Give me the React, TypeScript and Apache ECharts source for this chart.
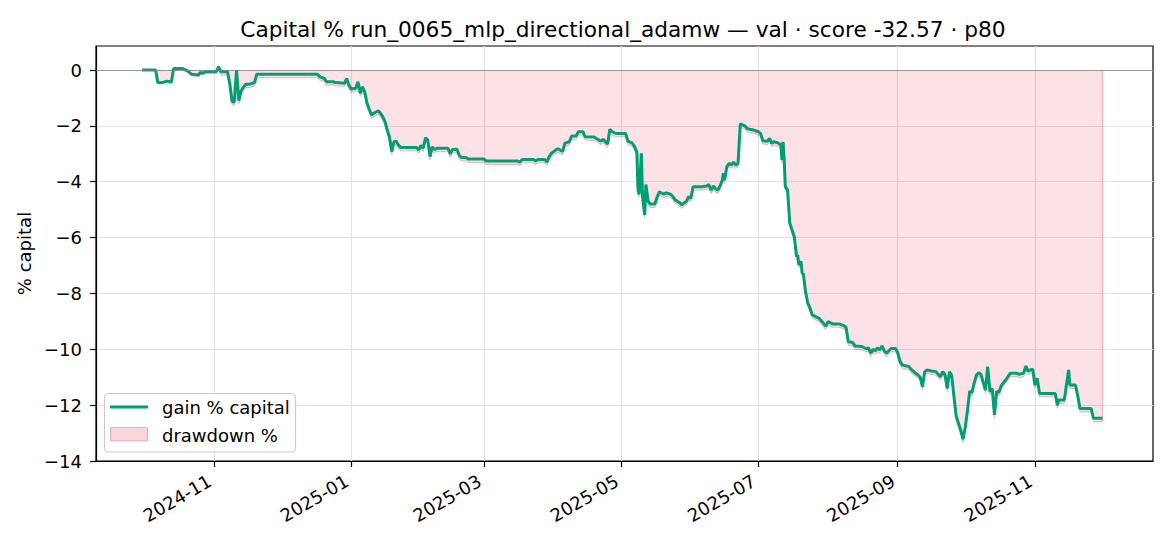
import React, { useEffect, useRef } from 'react';
import * as echarts from 'echarts';

const TITLE = 'Capital % run_0065_mlp_directional_adamw — val · score -32.57 · p80';
const Y_NAME = '% capital';
const LEGEND_LABELS = ['gain % capital', 'drawdown %'];
const X_TICKS = ['2024-11', '2025-01', '2025-03', '2025-05', '2025-07', '2025-09', '2025-11'];
const Y_TICKS = [-14, -12, -10, -8, -6, -4, -2, 0];
const X_MIN = '2024-09-09 12:00';
const X_MAX = '2025-12-23 12:00';
const Y_MIN = -14;
const Y_MAX = 0.86;

const dates = [
  '2024-09-30', '2024-10-06', '2024-10-07', '2024-10-09', '2024-10-11', '2024-10-12', '2024-10-13', '2024-10-14',
  '2024-10-18', '2024-10-20', '2024-10-22', '2024-10-25', '2024-10-26', '2024-10-27', '2024-10-28', '2024-11-02',
  '2024-11-03', '2024-11-04', '2024-11-07', '2024-11-08', '2024-11-09', '2024-11-10', '2024-11-11', '2024-11-12',
  '2024-11-13', '2024-11-14', '2024-11-15', '2024-11-17', '2024-11-19', '2024-11-20', '2024-12-17', '2024-12-18',
  '2024-12-20', '2024-12-21', '2024-12-24', '2024-12-25', '2024-12-29', '2024-12-30', '2024-12-31', '2025-01-01',
  '2025-01-03', '2025-01-04', '2025-01-05', '2025-01-06', '2025-01-07', '2025-01-08', '2025-01-10', '2025-01-11',
  '2025-01-13', '2025-01-14', '2025-01-15', '2025-01-16', '2025-01-17', '2025-01-18', '2025-01-19', '2025-01-20',
  '2025-01-21', '2025-01-22', '2025-01-23', '2025-01-30', '2025-01-31', '2025-02-01', '2025-02-02', '2025-02-03',
  '2025-02-04', '2025-02-05', '2025-02-06', '2025-02-07', '2025-02-08', '2025-02-13', '2025-02-14', '2025-02-15',
  '2025-02-17', '2025-02-18', '2025-02-19', '2025-02-21', '2025-02-22', '2025-03-01', '2025-03-02', '2025-03-16',
  '2025-03-17', '2025-03-18', '2025-03-23', '2025-03-24', '2025-03-25', '2025-03-28', '2025-03-29', '2025-03-30',
  '2025-03-31', '2025-04-02', '2025-04-03', '2025-04-05', '2025-04-06', '2025-04-08', '2025-04-09', '2025-04-11',
  '2025-04-12', '2025-04-14', '2025-04-15', '2025-04-19', '2025-04-20', '2025-04-22', '2025-04-23', '2025-04-25',
  '2025-04-26', '2025-04-27', '2025-04-28', '2025-04-29', '2025-05-03', '2025-05-04', '2025-05-06', '2025-05-07',
  '2025-05-08', '2025-05-08 12:00', '2025-05-09', '2025-05-10', '2025-05-10 12:00', '2025-05-11 12:00', '2025-05-12', '2025-05-13',
  '2025-05-14', '2025-05-16', '2025-05-17', '2025-05-18', '2025-05-20', '2025-05-21', '2025-05-23', '2025-05-24',
  '2025-05-25', '2025-05-27', '2025-05-28', '2025-05-30', '2025-05-31', '2025-06-01', '2025-06-02', '2025-06-06',
  '2025-06-08', '2025-06-09', '2025-06-10', '2025-06-11', '2025-06-12', '2025-06-13', '2025-06-14', '2025-06-15',
  '2025-06-15 12:00', '2025-06-16', '2025-06-17', '2025-06-18', '2025-06-19', '2025-06-20', '2025-06-21', '2025-06-22',
  '2025-06-22 12:00', '2025-06-23', '2025-06-25', '2025-06-26', '2025-06-27', '2025-06-29', '2025-07-01', '2025-07-02',
  '2025-07-03', '2025-07-05', '2025-07-06', '2025-07-07', '2025-07-08', '2025-07-10', '2025-07-11', '2025-07-11 12:00',
  '2025-07-12', '2025-07-12 12:00', '2025-07-13', '2025-07-14', '2025-07-15', '2025-07-17', '2025-07-18', '2025-07-18 12:00',
  '2025-07-19', '2025-07-20', '2025-07-20 12:00', '2025-07-21', '2025-07-22', '2025-07-23', '2025-07-24', '2025-07-25',
  '2025-07-28', '2025-07-30', '2025-07-31', '2025-08-01', '2025-08-03', '2025-08-06', '2025-08-08', '2025-08-09',
  '2025-08-10', '2025-08-12', '2025-08-13', '2025-08-16', '2025-08-18', '2025-08-19', '2025-08-20', '2025-08-21',
  '2025-08-22', '2025-08-23', '2025-08-24', '2025-08-25', '2025-08-26', '2025-08-27', '2025-08-29', '2025-08-31',
  '2025-09-01', '2025-09-02', '2025-09-03', '2025-09-06', '2025-09-07', '2025-09-09', '2025-09-10', '2025-09-11',
  '2025-09-12', '2025-09-13', '2025-09-14', '2025-09-16', '2025-09-18', '2025-09-20', '2025-09-21', '2025-09-22',
  '2025-09-23', '2025-09-24', '2025-09-25', '2025-09-26', '2025-09-27', '2025-09-29', '2025-09-30', '2025-10-01',
  '2025-10-02', '2025-10-03', '2025-10-04', '2025-10-05', '2025-10-06', '2025-10-07', '2025-10-08', '2025-10-10',
  '2025-10-11', '2025-10-12', '2025-10-13', '2025-10-14', '2025-10-15', '2025-10-16', '2025-10-17', '2025-10-19',
  '2025-10-21', '2025-10-24', '2025-10-25', '2025-10-27', '2025-10-28', '2025-10-29', '2025-10-30', '2025-10-31',
  '2025-11-01', '2025-11-02', '2025-11-02 12:00', '2025-11-03', '2025-11-10', '2025-11-11', '2025-11-11 12:00', '2025-11-14',
  '2025-11-14 12:00', '2025-11-15', '2025-11-16', '2025-11-16 12:00', '2025-11-19', '2025-11-20', '2025-11-21', '2025-11-26',
  '2025-11-27', '2025-12-01',
];

const gain = [
  0, 0, -0.46, -0.45, -0.40, -0.41, -0.44, 0.05,
  0.05, -0.02, -0.15, -0.18, -0.08, -0.12, -0.06, -0.06,
  0.12, -0.06, -0.06, -0.50, -1.12, -1.15, 0.0, -1.10,
  -0.75, -0.62, -0.52, -0.50, -0.45, -0.15, -0.15, -0.24,
  -0.30, -0.42, -0.42, -0.45, -0.47, -0.30, -0.55, -0.68,
  -0.65, -0.42, -0.83, -0.60, -0.80, -1.19, -1.61, -1.55,
  -1.46, -1.55, -1.67, -1.85, -2.15, -2.40, -2.92, -2.57,
  -2.55, -2.69, -2.77, -2.77, -2.86, -2.70, -2.80, -2.43,
  -2.50, -3.10, -2.75, -2.85, -2.80, -2.80, -3.00, -2.85,
  -2.84, -3.05, -3.13, -3.13, -3.19, -3.19, -3.26, -3.26,
  -3.30, -3.20, -3.20, -3.26, -3.20, -3.20, -3.30, -3.10,
  -2.98, -2.86, -2.82, -2.92, -2.62, -2.57, -2.36, -2.36,
  -2.21, -2.21, -2.39, -2.40, -2.45, -2.55, -2.48, -2.65,
  -2.12, -2.20, -2.25, -2.27, -2.27, -2.55, -2.62, -2.75,
  -2.94, -4.30, -4.45, -2.98, -4.53, -5.19, -4.10, -4.70,
  -4.80, -4.80, -4.55, -4.36, -4.45, -4.40, -4.45, -4.53,
  -4.65, -4.75, -4.83, -4.70, -4.53, -4.60, -4.18, -4.18,
  -4.15, -4.10, -4.30, -4.15, -4.25, -4.30, -4.15, -3.94,
  -3.70, -3.94, -3.46, -3.34, -3.40, -3.30, -3.40, -3.34,
  -2.62, -1.93, -2.00, -2.09, -2.12, -2.15, -2.21, -2.27,
  -2.53, -2.55, -2.45, -2.62, -2.57, -2.62, -2.68, -3.22,
  -2.57, -3.20, -4.18, -4.29, -5.49, -5.97, -6.68, -6.62,
  -6.98, -6.85, -7.28, -7.28, -7.94, -8.35, -8.53, -8.77,
  -8.89, -9.07, -9.17, -9.01, -9.09, -9.09, -9.15, -9.21,
  -9.73, -9.76, -9.88, -9.90, -9.98, -9.95, -10.14, -10.00,
  -10.05, -9.95, -10.02, -9.88, -10.05, -10.14, -9.97, -9.97,
  -10.12, -10.44, -10.56, -10.62, -10.72, -10.86, -10.92, -11.00,
  -11.34, -10.80, -10.74, -10.78, -10.80, -10.98, -10.80, -10.90,
  -11.40, -10.80, -10.95, -11.70, -12.40, -12.90, -13.22, -12.80,
  -12.20, -11.50, -11.55, -11.20, -10.92, -10.84, -10.90, -11.46,
  -10.62, -11.52, -11.40, -12.35, -11.50, -11.55, -11.30, -11.10,
  -10.86, -10.86, -10.90, -10.85, -10.60, -10.78, -10.74, -10.71,
  -11.28, -11.04, -11.28, -11.58, -11.58, -12.00, -11.82, -11.82,
  -11.58, -11.28, -10.74, -11.28, -11.28, -11.64, -12.12, -12.12,
  -12.47, -12.47,
];

const FONT = 'DejaVu Sans';
const FS = 18;
const TITLE_FS = 21.7;
const GREEN = '#009E73';
const FILL = 'rgba(220,20,60,0.18)';
const EDGE = 'rgba(220,20,60,0.28)';

function toTime(s: string): number {
  const [datePart, timePart] = s.split(' ');
  const parts = datePart.split('-').map(Number);
  const y = parts[0];
  const m = parts[1];
  const d = parts.length > 2 ? parts[2] : 1;
  let hh = 0;
  let mm = 0;
  if (timePart) {
    const t = timePart.split(':').map(Number);
    hh = t[0];
    mm = t[1] || 0;
  }
  return new Date(y, m - 1, d, hh, mm).getTime();
}

function fmtMinus(v: number): string {
  if (v < 0) return '\u2212' + String(Math.abs(v));
  return String(v);
}

export default function App() {
  const ref = useRef<HTMLDivElement>(null);

  useEffect(() => {
    if (!ref.current) return;
    const chart = echarts.init(ref.current, null, { renderer: 'svg' });

    let runMax = -Infinity;
    const drawdown = gain.map((v) => {
      runMax = Math.max(runMax, v);
      return v - runMax;
    });
    const times = dates.map(toTime);
    const gainData = times.map((t, i) => [t, gain[i]]);
    const ddData = times.map((t, i) => [t, drawdown[i]]);
    const lastT = times[times.length - 1];
    const lastDD = drawdown[drawdown.length - 1];
    const xTickVals = X_TICKS.map(toTime);

    const option: any = {
      animation: false,
      grid: {
        left: 96,
        right: 17,
        top: 46,
        bottom: 85,
        show: true,
        borderColor: '#000',
        borderWidth: 1.2,
        backgroundColor: 'transparent',
      },
      xAxis: {
        type: 'value',
        min: toTime(X_MIN),
        max: toTime(X_MAX),
        axisLine: { show: true, onZero: false, lineStyle: { color: '#000', width: 1.2 } },
        axisTick: { show: true, length: 6, lineStyle: { color: '#000', width: 1.2 }, customValues: xTickVals },
        splitLine: { show: true, lineStyle: { color: '#e3e3e3', width: 1.2 } },
        axisLabel: {
          customValues: xTickVals,
          rotate: 30,
          margin: 16,
          padding: [0, 5, 0, 0],
          color: '#000',
          fontFamily: FONT,
          fontSize: FS,
          hideOverlap: false,
          formatter: (v: number) => {
            const d = new Date(v);
            return `${d.getFullYear()}-${String(d.getMonth() + 1).padStart(2, '0')}`;
          },
        },
      },
      yAxis: {
        type: 'value',
        min: Y_MIN,
        max: Y_MAX,
        name: Y_NAME,
        nameLocation: 'middle',
        nameGap: 57,
        nameRotate: 90,
        nameTextStyle: { color: '#000', fontFamily: FONT, fontSize: FS },
        axisLine: { show: true, lineStyle: { color: '#000', width: 1.2 } },
        axisTick: { show: true, length: 6, lineStyle: { color: '#000', width: 1.2 }, customValues: Y_TICKS },
        splitLine: { show: true, lineStyle: { color: '#e3e3e3', width: 1.2 } },
        axisLabel: {
          customValues: Y_TICKS,
          margin: 14,
          color: '#000',
          fontFamily: FONT,
          fontSize: FS,
          formatter: (v: number) => fmtMinus(v),
        },
      },
      series: [
        {
          name: LEGEND_LABELS[1],
          type: 'line',
          data: ddData,
          symbol: 'none',
          z: 2,
          lineStyle: { color: EDGE, width: 1.2 },
          areaStyle: { color: FILL },
          markLine: {
            silent: true,
            symbol: 'none',
            label: { show: false },
            animation: false,
            data: [
              [
                { coord: [lastT, 0], lineStyle: { color: EDGE, width: 1.2, type: 'solid' } },
                { coord: [lastT, lastDD] },
              ],
              { yAxis: 0, lineStyle: { color: 'rgba(128,128,128,0.75)', width: 1.2, type: 'solid' } },
            ],
          },
        },
        {
          name: LEGEND_LABELS[0],
          type: 'line',
          data: gainData,
          symbol: 'none',
          z: 4,
          lineStyle: { color: GREEN, width: 3 },
        },
      ],
      graphic: [
        {
          type: 'text',
          x: 623,
          y: 29,
          z: 10,
          style: {
            text: TITLE,
            fill: '#000',
            font: `${TITLE_FS}px "${FONT}"`,
            align: 'center',
            verticalAlign: 'middle',
          },
        },
        {
          type: 'rect',
          z: 10,
          shape: { x: 104.5, y: 393.5, width: 191, height: 58.5, r: 4 },
          style: { fill: 'rgba(255,255,255,0.8)', stroke: '#cccccc', lineWidth: 1.2 },
        },
        {
          type: 'line',
          z: 11,
          shape: { x1: 110, y1: 407, x2: 148, y2: 407 },
          style: { stroke: GREEN, lineWidth: 3 },
        },
        {
          type: 'text',
          z: 11,
          x: 162,
          y: 407,
          style: {
            text: LEGEND_LABELS[0],
            fill: '#000',
            font: `${FS}px "${FONT}"`,
            align: 'left',
            verticalAlign: 'middle',
          },
        },
        {
          type: 'rect',
          z: 11,
          shape: { x: 110.5, y: 427.5, width: 37, height: 13.5 },
          style: { fill: FILL, stroke: EDGE, lineWidth: 1.2 },
        },
        {
          type: 'text',
          z: 11,
          x: 162,
          y: 435,
          style: {
            text: LEGEND_LABELS[1],
            fill: '#000',
            font: `${FS}px "${FONT}"`,
            align: 'left',
            verticalAlign: 'middle',
          },
        },
      ],
    };

    chart.setOption(option);
    return () => {
      chart.dispose();
    };
  }, []);

  return (
    <div
      ref={ref}
      style={{ position: 'fixed', left: 0, top: 0, width: 1170, height: 546, background: '#fff' }}
    />
  );
}
